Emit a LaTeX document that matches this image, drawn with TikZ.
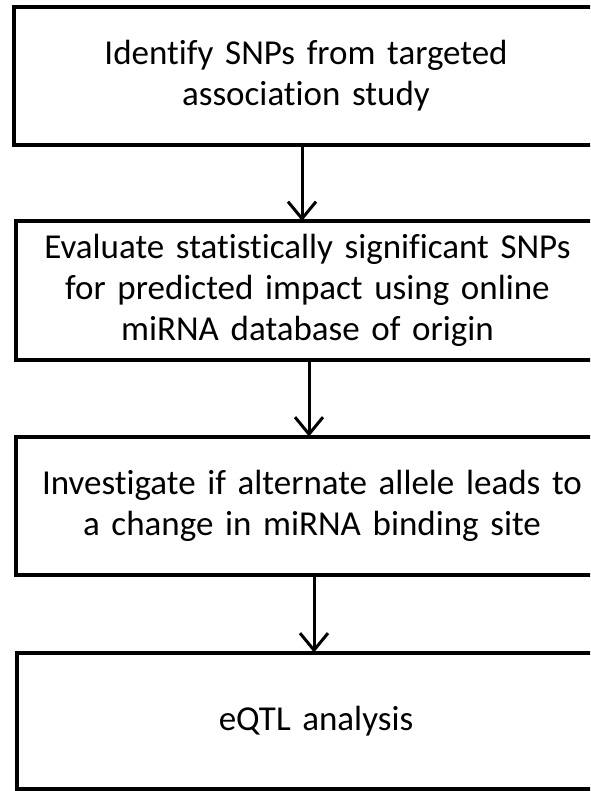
\documentclass[tikz,border=0pt]{standalone}
\usepackage{fontspec}
\setmainfont[Ligatures=NoCommon]{Carlito}
\usetikzlibrary{arrows.meta}
\tikzset{
  stepbox/.style={draw=black, line width=4pt, rectangle, inner sep=0pt, outer sep=0pt,
    align=center, text width=580pt,
    font=\fontsize{35}{41}\selectfont},
  flowarrow/.style={draw=black, line width=3pt,
    -{Straight Barb[length=17pt, width=28pt, line width=3pt]}}
}
\begin{document}
\begin{tikzpicture}[x=1pt,y=1pt]
\path[use as bounding box] (0,0) rectangle (590,-791);
\fill[white] (0,0) rectangle (590,-791);
\clip (0,0) rectangle (590,-791);
\node[stepbox, minimum width=584pt, minimum height=138pt] (b1) at (306,-76)
  {Identify SNPs from targeted\\association study};
\node[stepbox, minimum width=583pt, minimum height=139pt] (b2) at (307.5,-290.5)
  {Evaluate statistically significant SNPs\\for predicted impact using online\\miRNA database of origin};
\node[stepbox, minimum width=592pt, minimum height=138.5pt] (b3) at (312,-505.75)
  {Investigate if alternate allele leads to\\a change in miRNA binding site};
\node[stepbox, minimum width=598pt, minimum height=136.5pt] (b4) at (316,-720.75)
  {eQTL analysis};
\coordinate (a1) at (302,0);
\coordinate (a2) at (309,0);
\coordinate (a3) at (314,0);
\draw[flowarrow] (b1.south -| a1) -- (b2.north -| a1);
\draw[flowarrow] (b2.south -| a2) -- (b3.north -| a2);
\draw[flowarrow] (b3.south -| a3) -- (b4.north -| a3);
\end{tikzpicture}
\end{document}
